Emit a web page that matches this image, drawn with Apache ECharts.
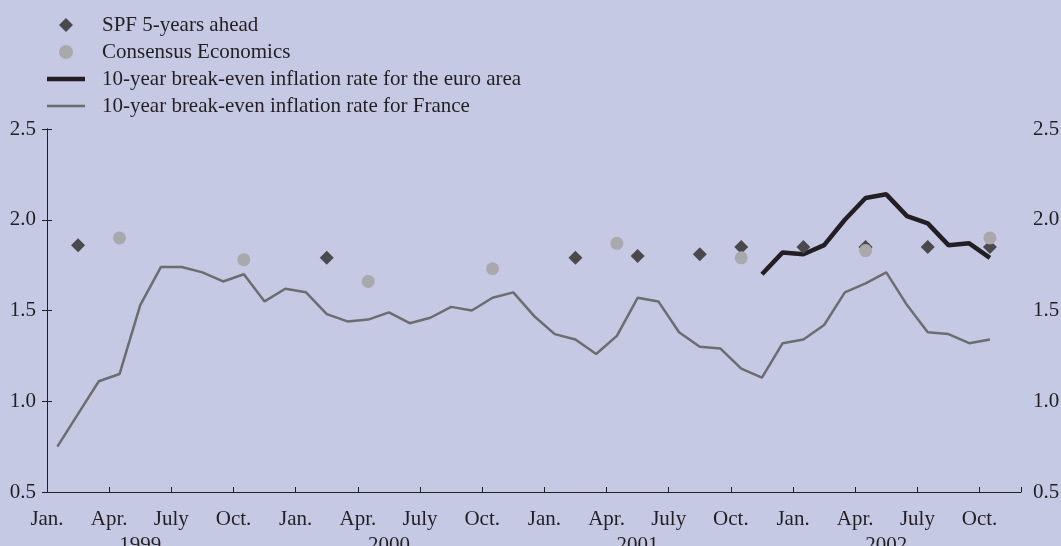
<!DOCTYPE html>
<html>
<head>
<meta charset="utf-8">
<script src="https://cdn.jsdelivr.net/npm/echarts@6/dist/echarts.min.js"></script>
<style>
  html, body { margin: 0; padding: 0; background: #c5c9e4; }
  #chart { width: 1061px; height: 546px; }
</style>
</head>
<body>
<div id="chart"></div>
<script>
// monthly series start in Jan. 1999, one value per month
var franceStart = "1999-01";
var france = [
  0.75, 0.93, 1.11, 1.15, 1.53, 1.74, 1.74, 1.71, 1.66, 1.70, 1.55, 1.62,
  1.60, 1.48, 1.44, 1.45, 1.49, 1.43, 1.46, 1.52, 1.50, 1.57, 1.60, 1.47,
  1.37, 1.34, 1.26, 1.36, 1.57, 1.55, 1.38, 1.30, 1.29, 1.18, 1.13, 1.32,
  1.34, 1.42, 1.60, 1.65, 1.71, 1.53, 1.38, 1.37, 1.32, 1.34
];
var euroStart = "2001-11";
var euro = [1.70, 1.82, 1.81, 1.86, 2.00, 2.12, 2.14, 2.02, 1.98, 1.86, 1.87, 1.79];

var spfDates = ["1999-02", "2000-02", "2001-02", "2001-05", "2001-08", "2001-10",
                "2002-01", "2002-04", "2002-07", "2002-10"];
var spfValues = [1.86, 1.79, 1.79, 1.80, 1.81, 1.85, 1.85, 1.85, 1.85, 1.85];

var ceDates = ["1999-04", "1999-10", "2000-04", "2000-10", "2001-04", "2001-10",
               "2002-04", "2002-10"];
var ceValues = [1.90, 1.78, 1.66, 1.73, 1.87, 1.79, 1.83, 1.90];

var monthLabels = ["Jan.", "", "", "Apr.", "", "", "July", "", "", "Oct.", "", ""];
var years = ["1999", "2000", "2001", "2002"];

function monthIndex(s) {
  var p = s.split("-");
  return (parseInt(p[0]) - 1999) * 12 + parseInt(p[1]) - 1;
}
function monthly(start, vals) {
  var m0 = monthIndex(start);
  return vals.map(function (v, i) { return [m0 + i + 0.5, v]; });
}
function points(dates, vals) {
  return dates.map(function (d, i) { return [monthIndex(d) + 0.5, vals[i]]; });
}

var font = "Liberation Serif";
var ink = "#231f20";

var myChart = echarts.init(document.getElementById("chart"));
var option = {
  backgroundColor: "#c5c9e4",
  animation: false,
  textStyle: { fontFamily: font, color: ink },
  legend: {
    orient: "vertical",
    left: 47,
    top: 14.5,
    padding: 0,
    itemWidth: 38,
    itemHeight: 14,
    itemGap: 6,
    symbolKeepAspect: true,
    textStyle: { fontFamily: font, fontSize: 21, color: ink, padding: [0, 0, 0, 12] },
    data: [
      { name: "SPF 5-years ahead", icon: "path://M7,0 L14,7 L7,14 L0,7 Z" },
      { name: "Consensus Economics", icon: "circle" },
      { name: "10-year break-even inflation rate for the euro area", icon: "path://M0,0 L38,0 L38,4.5 L0,4.5 Z" },
      { name: "10-year break-even inflation rate for France", icon: "path://M0,0 L38,0 L38,2.5 L0,2.5 Z" }
    ]
  },
  grid: { left: 47, right: 40, top: 129, bottom: 54, outerBoundsMode: "none" },
  xAxis: [
    {
      type: "value",
      min: 0,
      max: 47,
      interval: 3,
      axisLine: { lineStyle: { color: ink, width: 1 } },
      axisTick: { inside: true, length: 5, lineStyle: { color: ink } },
      splitLine: { show: false },
      axisLabel: {
        margin: 17,
        fontFamily: font,
        fontSize: 21,
        color: ink,
        formatter: function (v) {
          if (v >= 47) return "";
          return monthLabels[v % 12];
        }
      }
    },
    {
      type: "value",
      position: "bottom",
      min: 0,
      max: 47,
      axisLine: { show: false },
      axisTick: { show: false },
      splitLine: { show: false },
      axisLabel: {
        margin: 43,
        fontFamily: font,
        fontSize: 21,
        color: ink,
        customValues: [4.5, 16.5, 28.5, 40.5],
        formatter: function (v) { return years[Math.round((v - 4.5) / 12)]; }
      }
    }
  ],
  yAxis: [
    {
      type: "value",
      position: "left",
      min: 0.5,
      max: 2.5,
      interval: 0.5,
      axisLine: { show: true, lineStyle: { color: ink, width: 1 } },
      axisTick: { show: true, inside: true, length: 5, lineStyle: { color: ink } },
      splitLine: { show: false },
      axisLabel: {
        margin: 11,
        fontFamily: font,
        fontSize: 21,
        color: ink,
        formatter: function (v) { return v.toFixed(1); }
      }
    },
    {
      type: "value",
      position: "right",
      min: 0.5,
      max: 2.5,
      interval: 0.5,
      axisLine: { show: true, lineStyle: { color: ink, width: 1 } },
      axisTick: { show: true, inside: true, length: 5, lineStyle: { color: ink } },
      splitLine: { show: false },
      axisLabel: {
        margin: 12,
        fontFamily: font,
        fontSize: 21,
        color: ink,
        formatter: function (v) { return v.toFixed(1); }
      }
    }
  ],
  series: [
    {
      name: "10-year break-even inflation rate for France",
      type: "line",
      data: monthly(franceStart, france),
      symbol: "none",
      lineStyle: { color: "#6d6d6d", width: 2.5 },
      itemStyle: { color: "#6d6d6d" },
      z: 2
    },
    {
      name: "10-year break-even inflation rate for the euro area",
      type: "line",
      data: monthly(euroStart, euro),
      symbol: "none",
      lineStyle: { color: "#231f20", width: 4.5 },
      itemStyle: { color: "#231f20" },
      z: 3
    },
    {
      name: "SPF 5-years ahead",
      type: "scatter",
      data: points(spfDates, spfValues),
      symbol: "diamond",
      symbolSize: 14,
      itemStyle: { color: "#4a4a4a", opacity: 1 },
      z: 4
    },
    {
      name: "Consensus Economics",
      type: "scatter",
      data: points(ceDates, ceValues),
      symbol: "circle",
      symbolSize: 13,
      itemStyle: { color: "#a9a9a9", opacity: 1 },
      z: 5
    }
  ]
};
option && myChart.setOption(option);
</script>
</body>
</html>
